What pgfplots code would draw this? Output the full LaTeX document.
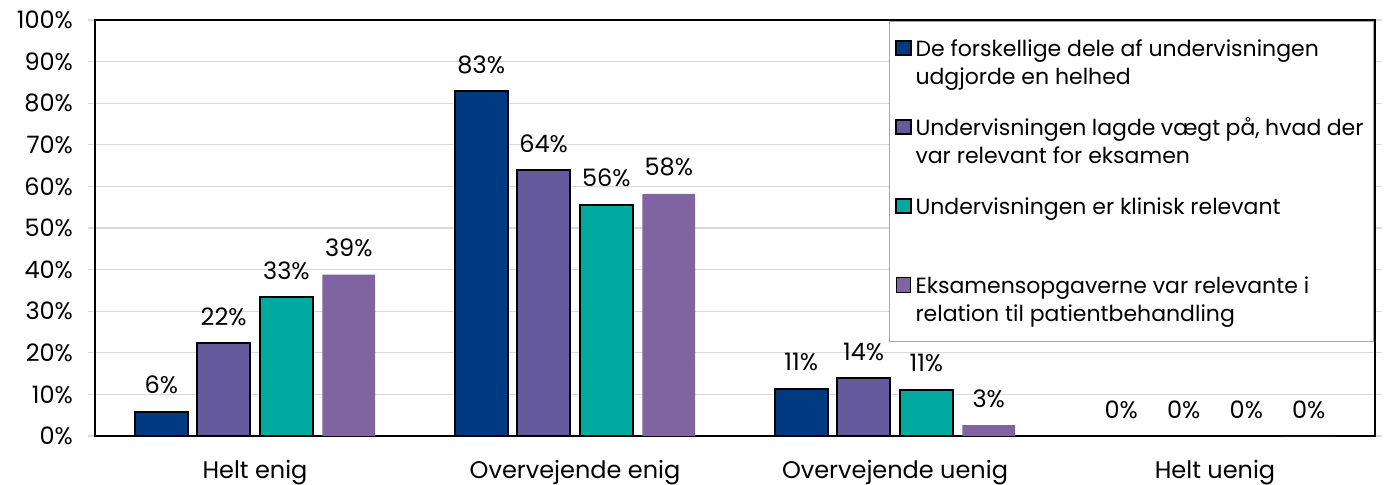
\documentclass[border=0pt]{standalone}
\usepackage{pgfplots}
\pgfplotsset{compat=1.18}
\usepackage{fontspec}
\setmainfont{Poppins}
\definecolor{cA}{HTML}{003A80}
\definecolor{cB}{HTML}{665A9E}
\definecolor{cC}{HTML}{00AAA0}
\definecolor{cD}{HTML}{8064A2}
\definecolor{gridc}{HTML}{D9D9D9}
\newcommand\lgd[2]{\parbox[b]{224pt}{\rule{0pt}{9pt}#1\\#2\rule[-4pt]{0pt}{4pt}}}
\begin{document}
\begin{tikzpicture}
\useasboundingbox (-47.5pt,-24pt) rectangle (645pt,218pt);
\begin{axis}[
  at={(0,0)}, anchor=south west,
  scale only axis, width=640pt, height=208pt,
  ybar, bar width=0.165,
  xmin=-0.5, xmax=3.5, ymin=0, ymax=100,
  xtick={0,1,2,3},
  xticklabels={Helt enig, Overvejende enig, Overvejende uenig, Helt uenig},
  ytick={0,10,...,100},
  yticklabel={\pgfmathprintnumber{\tick}\%},
  /pgf/number format/assume math mode=true,
  tick label style={font=\fontsize{12}{14}\selectfont, black},
  xticklabel style={yshift=-5pt},
  yticklabel style={xshift=-4pt},
  x tick style={draw=none},
  y tick style={draw=gridc, line width=0.6pt},
  tick align=outside, major tick length=3.5pt,
  ymajorgrids, major grid style={gridc, line width=0.6pt},
  axis line style={black, line width=1pt},
  point meta=y,
  nodes near coords={\pgfmathprintnumber[fixed,precision=0]{\pgfplotspointmeta}\%},
  nodes near coords style={font=\fontsize{12}{14}\selectfont, black, anchor=base, yshift=9pt},
  legend image code/.code={\draw[#1] (0pt,3.9pt) rectangle (7.2pt,11.1pt);},
  legend cell align=left,
  legend style={at={(1,1)}, anchor=north east, xshift=-0.5pt, yshift=-0.5pt,
    draw=gray!70, line width=0.5pt, font=\fontsize{11}{14}\selectfont,
    row sep=11pt, inner ysep=6.5pt},
]
\addplot[fill=cA, draw=black, line width=1pt, bar shift=-0.293] coordinates {(0,5.8) (1,82.9) (2,11.4) (3,0)};
\addlegendentry{\lgd{De forskellige dele af undervisningen}{udgjorde en helhed}}
\addplot[fill=cB, draw=black, line width=1pt, bar shift=-0.098] coordinates {(0,22.3) (1,63.9) (2,13.9) (3,0)};
\addlegendentry{\lgd{Undervisningen lagde vægt på, hvad der}{var relevant for eksamen}}
\addplot[fill=cC, draw=black, line width=1pt, bar shift=0.098] coordinates {(0,33.4) (1,55.6) (2,11.1) (3,0)};
\addlegendentry{\lgd{Undervisningen er klinisk relevant}{}}
\addplot[fill=cD, draw=none, bar shift=0.293] coordinates {(0,38.8) (1,58.2) (2,2.6) (3,0)};
\addlegendentry{\lgd{Eksamensopgaverne var relevante i}{relation til patientbehandling}}
\end{axis}
\end{tikzpicture}
\end{document}
